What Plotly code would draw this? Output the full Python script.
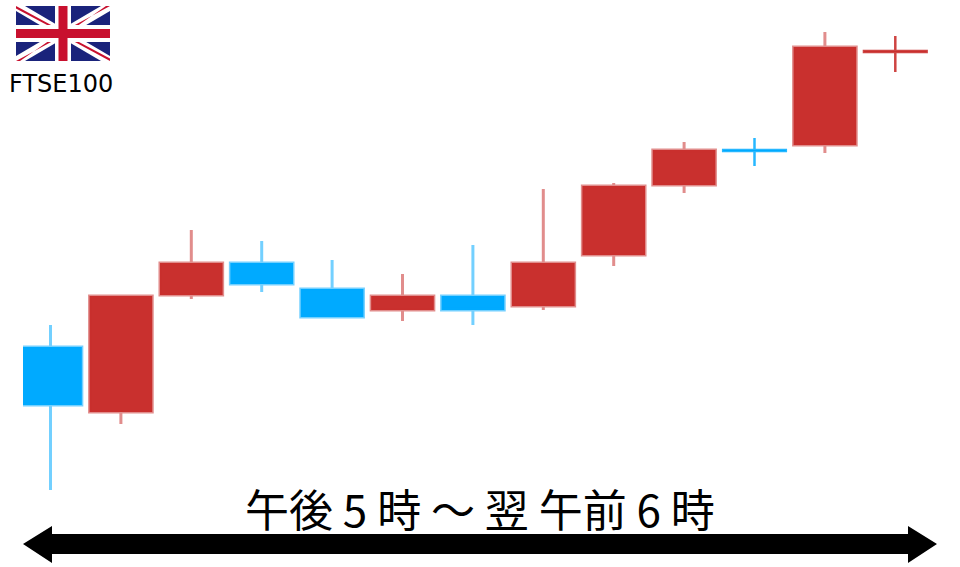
import plotly.graph_objects as go

# Values (arbitrary index scale, no axis shown)
sessions = [0, 1, 2, 3, 4, 5, 6, 7, 8, 9, 11]
open_ = [220, 155, 272, 304, 278, 257, 271, 261, 312, 382, 422]
close = [162, 271, 304, 283, 250, 271, 257, 304, 381, 417, 520]
high = [242, 271, 337, 326, 307, 293, 322, 378, 384, 425, 535]
low = [77, 143, 268, 275, 250, 246, 242, 257, 301, 374, 414]
# Near-doji sessions, drawn as crosses in the reference
cross_sessions = [10, 12]
cross_open = [417, 515]
cross_close = [416, 516]
cross_high = [429, 531]
cross_low = [401, 495]
index_label = "FTSE100"
period_label = "午後 5 時 ～ 翌 午前 6 時"

W, H = 960, 567
L, R = 23, 940
RED, BLUE = "#c9302e", "#00aaff"
NAVY, FRED = "#1a237b", "#c8102e"


def px(x):
    return (x - L) / (R - L)


def py(y):
    return 1 - y / H


def poly(points, color):
    path = "M " + " L ".join(f"{px(a):.5f},{py(b):.5f}" for a, b in points) + " Z"
    return dict(type="path", xref="paper", yref="paper", path=path,
                fillcolor=color, line=dict(width=0), layer="above")


shapes = []
# flag
fx0, fy0, fx1, fy1 = 16, 6, 110, 61
fm, fc = (fx0 + fx1) / 2, (fy0 + fy1) / 2
shapes.append(poly([(fx0, fy0), (fx1, fy0), (fx1, fy1), (fx0, fy1)], NAVY))
shapes.append(poly([(fx0, fy0), (fx0 + 9, fy0), (fx1, fy1 - 5), (fx1, fy1), (fx1 - 9, fy1), (fx0, fy0 + 5)], "#ffffff"))
shapes.append(poly([(fx1, fy0), (fx1 - 9, fy0), (fx0, fy1 - 5), (fx0, fy1), (fx0 + 9, fy1), (fx1, fy0 + 5)], "#ffffff"))
shapes.append(poly([(fx0, fy0), (fm - 11, fc - 8), (fm - 15, fc - 8), (fx0, fy0 + 2.5)], FRED))
shapes.append(poly([(fx1, fy1), (fm + 11, fc + 8), (fm + 15, fc + 8), (fx1, fy1 - 2.5)], FRED))
shapes.append(poly([(fx1, fy0), (fm + 11, fc - 8), (fm + 15, fc - 8), (fx1 - 4, fy0)], FRED))
shapes.append(poly([(fx0, fy1), (fm - 11, fc + 8), (fm - 15, fc + 8), (fx0 + 4, fy1)], FRED))
shapes.append(poly([(fm - 8, fy0), (fm + 8, fy0), (fm + 8, fy1), (fm - 8, fy1)], "#ffffff"))
shapes.append(poly([(fx0, fc - 8.5), (fx1, fc - 8.5), (fx1, fc + 8.5), (fx0, fc + 8.5)], "#ffffff"))
shapes.append(poly([(fm - 4.5, fy0), (fm + 4.5, fy0), (fm + 4.5, fy1), (fm - 4.5, fy1)], FRED))
shapes.append(poly([(fx0, fc - 4.5), (fx1, fc - 4.5), (fx1, fc + 4.5), (fx0, fc + 4.5)], FRED))
# double arrow
shapes.append(poly([(23, 544), (52, 526), (52, 534), (908, 534), (908, 526), (937, 544),
                    (908, 563), (908, 554), (52, 554), (52, 563)], "#000000"))

fig = go.Figure()
fig.add_trace(go.Candlestick(
    x=sessions, open=open_, high=high, low=low, close=close,
    whiskerwidth=0,
    increasing=dict(line=dict(color="rgba(201,48,46,0.55)", width=3), fillcolor=RED),
    decreasing=dict(line=dict(color="rgba(0,170,255,0.55)", width=3), fillcolor=BLUE),
    hoverinfo="skip", showlegend=False,
))
fig.add_trace(go.Candlestick(
    x=cross_sessions, open=cross_open, high=cross_high, low=cross_low, close=cross_close,
    whiskerwidth=0,
    increasing=dict(line=dict(color="rgba(201,48,46,0.9)", width=2.5), fillcolor=RED),
    decreasing=dict(line=dict(color="rgba(0,170,255,0.85)", width=2.5), fillcolor=BLUE),
    hoverinfo="skip", showlegend=False,
))

step = 70.4
x_at_zero = 50.5
fig.update_layout(
    width=W, height=H, autosize=False,
    margin=dict(l=L, r=W - R, t=0, b=0),
    paper_bgcolor="white", plot_bgcolor="white",
    showlegend=False, boxgap=0.11, boxgroupgap=0, boxmode="overlay",
    xaxis=dict(visible=False, rangeslider=dict(visible=False),
               range=[(L - x_at_zero) / step, (R - x_at_zero) / step]),
    yaxis=dict(visible=False, range=[0, H]),
    shapes=shapes,
    annotations=[
        dict(text=index_label, xref="paper", yref="paper", x=px(61), y=py(84),
             xanchor="center", yanchor="middle", showarrow=False,
             font=dict(family="DejaVu Sans", size=24, color="#000")),
        dict(text=period_label, xref="paper", yref="paper", x=px(480), y=py(508),
             xanchor="center", yanchor="middle", showarrow=False,
             font=dict(family="Noto Sans CJK JP", size=44, color="#000")),
    ],
)
fig.write_html("out.html", config={"displayModeBar": False},
               post_script="document.body.style.margin='0';document.body.style.overflow='hidden';")
